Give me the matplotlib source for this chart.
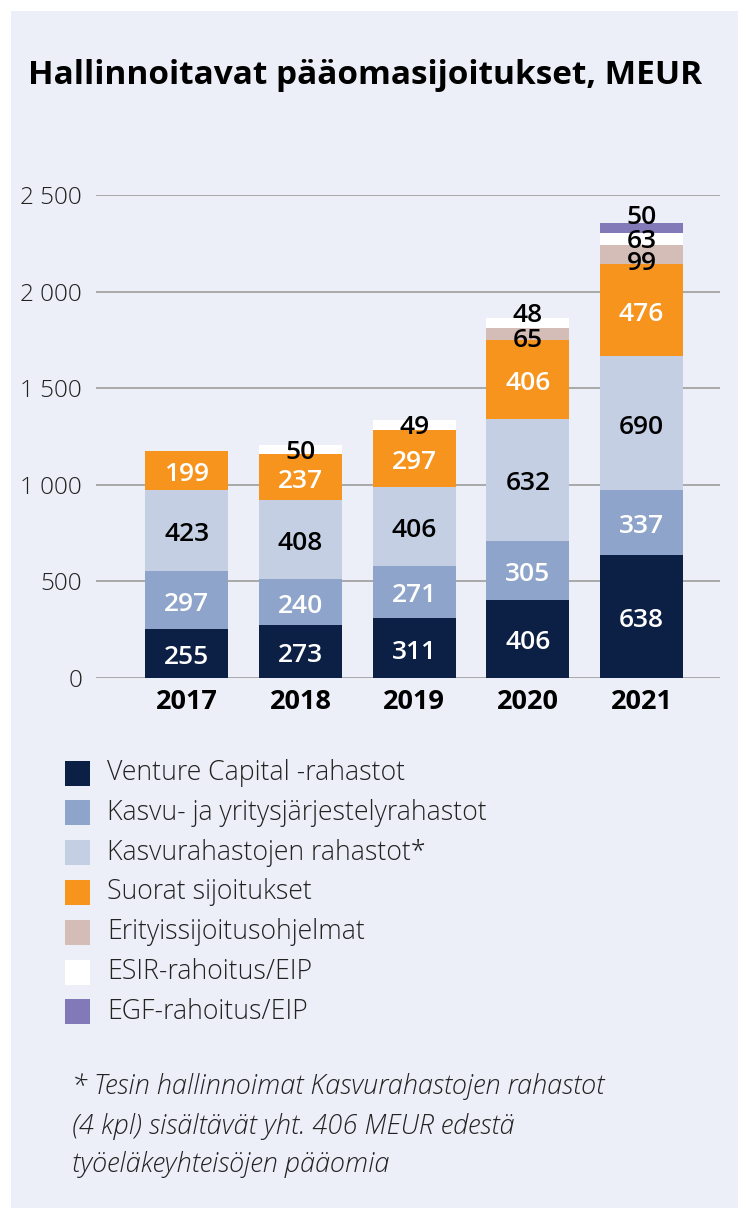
import matplotlib
matplotlib.use("Agg")
import matplotlib.pyplot as plt
from matplotlib.patches import Rectangle
from matplotlib.ticker import FuncFormatter, FixedLocator
import numpy as np

plt.rcParams['font.family'] = ['Open Sans', 'DejaVu Sans']

years = ["2017", "2018", "2019", "2020", "2021"]
series_names = [
    "Venture Capital -rahastot",
    "Kasvu- ja yritysjärjestelyrahastot",
    "Kasvurahastojen rahastot*",
    "Suorat sijoitukset",
    "Erityissijoitusohjelmat",
    "ESIR-rahoitus/EIP",
    "EGF-rahoitus/EIP",
]
venture_capital = [255, 273, 311, 406, 638]
kasvu_yj = [297, 240, 271, 305, 337]
kasvurahastojen = [423, 408, 406, 632, 690]
suorat = [199, 237, 297, 406, 476]
erityis = [0, 0, 0, 65, 99]
esir = [0, 50, 49, 48, 63]
egf = [0, 0, 0, 0, 50]
series_values = [venture_capital, kasvu_yj, kasvurahastojen, suorat, erityis, esir, egf]
y_ticks = [0, 500, 1000, 1500, 2000, 2500]
title = "Hallinnoitavat pääomasijoitukset, MEUR"
footnote = ["* Tesin hallinnoimat Kasvurahastojen rahastot",
            "(4 kpl) sisältävät yht. 406 MEUR edestä",
            "työeläkeyhteisöjen pääomia"]

colors = ["#0C1F44", "#8FA4CA", "#C4CFE3", "#F7941D", "#D4BDB6", "#FFFFFF", "#8279B8"]
text_colors = ["white", "white", "black", "white", "black", "black", "black"]
# vertical nudges (points) for labels on thin segments: (series, year) -> offset
nudges = {(5, 1): 1, (5, 2): 1, (5, 3): 8, (4, 3): -2, (4, 4): -3.3, (5, 4): 1, (6, 4): 11}

W, H = 738, 1208
bg = "#ECEFF7"
fig = plt.figure(figsize=(W / 100, H / 100), dpi=100)
fig.patch.set_facecolor("white")
fig.patches.append(Rectangle((11 / W, 0), 1, (H - 11) / H, transform=fig.transFigure,
                             facecolor=bg, edgecolor="none", zorder=-10))

ax = fig.add_axes([96 / W, (H - 678) / H, (720 - 96) / W, (678 - 195) / H])
ax.set_facecolor("none")
x = np.arange(len(years))
bottom = np.zeros(len(years))
for si, (vals, c) in enumerate(zip(series_values, colors)):
    vals = np.array(vals, dtype=float)
    ax.bar(x, vals, 0.73, bottom=bottom, color=c, edgecolor="none", zorder=3)
    for i, v in enumerate(vals):
        if v <= 0:
            continue
        yc = bottom[i] + v / 2
        dy = nudges.get((si, i), 0)
        ax.annotate(f"{int(v)}", (x[i], yc), xytext=(0, dy - 3), textcoords="offset points",
                    ha="center", va="center", fontsize=19, fontweight="semibold",
                    color=text_colors[si], zorder=5, annotation_clip=False)
    bottom += vals

ax.set_xlim(-0.80, 4.69)
ax.set_ylim(0, 2500)
ax.yaxis.set_major_locator(FixedLocator(y_ticks))
ax.yaxis.set_major_formatter(FuncFormatter(lambda v, p: f"{int(v):,}".replace(",", " ")))
ax.grid(axis="y", color="#A3A3A3", linewidth=1.3, zorder=0)
ax.set_axisbelow(True)
for s in ax.spines.values():
    s.set_visible(False)
ax.tick_params(axis="y", length=0, pad=10, labelsize=17.5, labelcolor="#222222")
ax.tick_params(axis="x", length=0, pad=8, labelsize=19.5)
ax.set_xticks(x)
ax.set_xticklabels(years, fontweight="bold")
for lab in ax.get_yticklabels():
    lab.set_fontweight("light")

fig.text(28 / W, 1 - 75 / H, title, fontsize=24, fontweight="bold", va="center", ha="left")

# legend
leg_y0 = 773
for k, (name, c) in enumerate(zip(series_names, colors)):
    yc = leg_y0 + k * 39.8
    fig.patches.append(Rectangle((65 / W, 1 - (yc + 12.5) / H), 25 / W, 25 / H,
                                 transform=fig.transFigure, facecolor=c, edgecolor="none"))
    fig.text(107 / W, 1 - yc / H, name, fontsize=19.2, fontweight="light", va="center",
             ha="left", color="#222222")

for k, line in enumerate(footnote):
    fig.text(72 / W, 1 - (1087 + k * 39) / H, line, fontsize=19.5, fontweight="light",
             style="italic", va="center", ha="left", color="#222222")

fig.savefig("out.png", dpi=100, facecolor=fig.get_facecolor())
